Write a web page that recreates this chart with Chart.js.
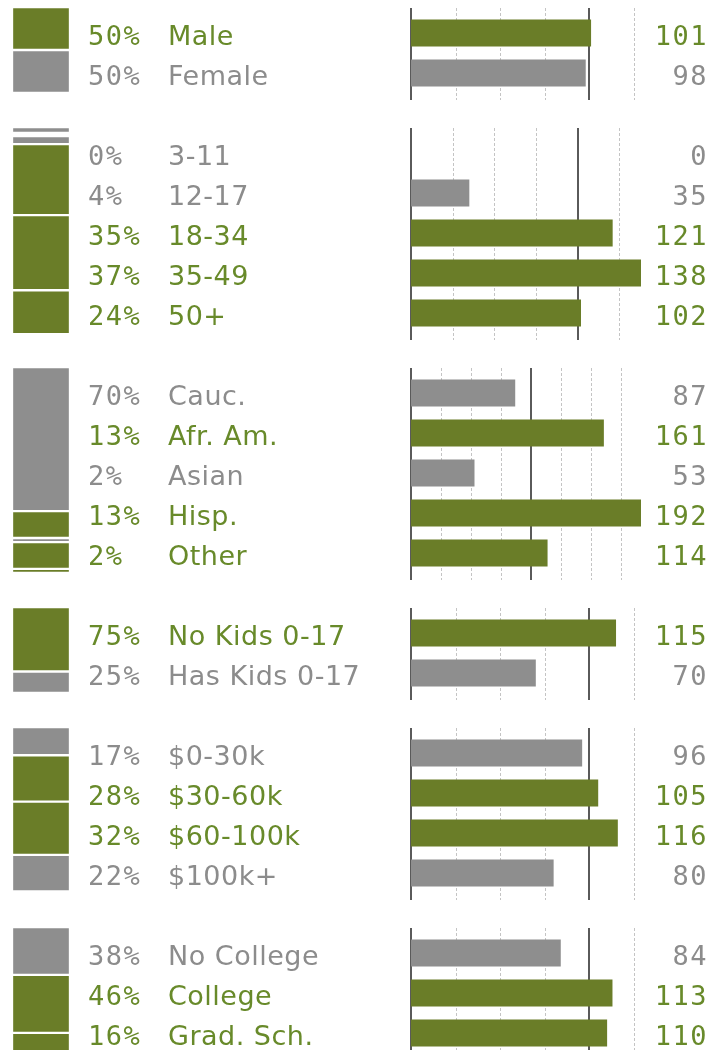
<!DOCTYPE html>
<html>
<head>
<meta charset="utf-8">
<title>Audience profile</title>
<script src="https://cdn.jsdelivr.net/npm/chart.js@4.4.1/dist/chart.umd.min.js"></script>
<style>
  html, body { margin: 0; padding: 0; background: #ffffff; width: 711px; height: 1050px; overflow: hidden; }
  #root { position: relative; width: 711px; height: 1050px; }
  .panel { position: absolute; left: 0; width: 711px; }
  .panel canvas { position: absolute; display: block; }
</style>
</head>
<body>
<div id="root"></div>
<script>
// ---- data: share of audience (%) and index vs. population (100 = average) ----
const genderLabels = ['Male', 'Female'];
const genderPct    = [50, 50];
const genderIndex  = [101, 98];

const ageLabels = ['3-11', '12-17', '18-34', '35-49', '50+'];
const agePct    = [0, 4, 35, 37, 24];
const ageIndex  = [0, 35, 121, 138, 102];

const ethLabels = ['Cauc.', 'Afr. Am.', 'Asian', 'Hisp.', 'Other'];
const ethPct    = [70, 13, 2, 13, 2];
const ethIndex  = [87, 161, 53, 192, 114];

const kidsLabels = ['No Kids 0-17', 'Has Kids 0-17'];
const kidsPct    = [75, 25];
const kidsIndex  = [115, 70];

const incomeLabels = ['$0-30k', '$30-60k', '$60-100k', '$100k+'];
const incomePct    = [17, 28, 32, 22];
const incomeIndex  = [96, 105, 116, 80];

const eduLabels = ['No College', 'College', 'Grad. Sch.'];
const eduPct    = [38, 46, 16];
const eduIndex  = [84, 113, 110];

// ---- styling ----
const GREEN = '#6A7D28';
const GRAY = '#8E8E8E';
const GREEN_TEXT = '#688A2A';
const GRAY_TEXT = '#8C8C8C';
const ROW_H = 40;
const PANEL_PAD = 6;
const PANEL_GAP = 28;
const FIRST_TOP = 8;
const TICK_STEP = 25;
const BASELINE = 100;
const DOMAIN_FLOOR = 129;

const above = v => v > BASELINE;
const barColor = v => above(v) ? GREEN : GRAY;
const textColor = v => above(v) ? GREEN_TEXT : GRAY_TEXT;

const panels = [
  { labels: genderLabels, pct: genderPct, index: genderIndex },
  { labels: ageLabels,    pct: agePct,    index: ageIndex },
  { labels: ethLabels,    pct: ethPct,    index: ethIndex },
  { labels: kidsLabels,   pct: kidsPct,   index: kidsIndex },
  { labels: incomeLabels, pct: incomePct, index: incomeIndex },
  { labels: eduLabels,    pct: eduPct,    index: eduIndex }
];

// dotted guides every 25 points, solid rules at 0 and 100
const guidePlugin = {
  id: 'guides',
  beforeDatasetsDraw(chart) {
    const { ctx, scales: { x } } = chart;
    ctx.save();
    for (let v = 0; v <= x.max + 1e-6; v += TICK_STEP) {
      const px = Math.round(x.getPixelForValue(v));
      ctx.beginPath();
      if (v === 0 || v === BASELINE) {
        ctx.strokeStyle = '#5A5A5A';
        ctx.lineWidth = 2;
        ctx.setLineDash([]);
        ctx.moveTo(px, 0);
        ctx.lineTo(px, chart.height);
      } else {
        ctx.strokeStyle = '#C4C4C4';
        ctx.lineWidth = 1;
        ctx.setLineDash([3, 2]);
        ctx.moveTo(px + 0.5, 0);
        ctx.lineTo(px + 0.5, chart.height);
      }
      ctx.stroke();
    }
    ctx.restore();
  }
};

// share %, category name and index value for each row
const rowTextPlugin = {
  id: 'rowText',
  afterDatasetsDraw(chart, args, opts) {
    const { ctx, scales: { y } } = chart;
    const { labels, pct, index } = opts;
    ctx.save();
    ctx.textBaseline = 'alphabetic';
    labels.forEach((lab, i) => {
      const cy = y.getPixelForValue(i) + 12;
      ctx.fillStyle = textColor(index[i]);
      ctx.font = '27px "DejaVu Sans Mono"';
      ctx.letterSpacing = '1.5px';
      ctx.textAlign = 'left';
      ctx.fillText(pct[i] + '%', 88, cy);
      ctx.textAlign = 'right';
      ctx.fillText(String(index[i]), 708, cy);
      ctx.font = '27px "DejaVu Sans"';
      ctx.letterSpacing = '0.5px';
      ctx.textAlign = 'left';
      ctx.fillText(lab, 168, cy);
    });
    ctx.letterSpacing = '0px';
    ctx.restore();
  }
};

const root = document.getElementById('root');
let panelTop = FIRST_TOP;

panels.forEach(p => {
  const n = p.labels.length;
  const h = n * ROW_H + PANEL_PAD * 2;

  const panel = document.createElement('div');
  panel.className = 'panel';
  panel.style.top = panelTop + 'px';
  panel.style.height = h + 'px';
  root.appendChild(panel);

  // index bars
  const barCanvas = document.createElement('canvas');
  barCanvas.width = 711;
  barCanvas.height = h;
  barCanvas.style.left = '0px';
  barCanvas.style.top = '0px';
  panel.appendChild(barCanvas);

  new Chart(barCanvas, {
    type: 'bar',
    data: {
      labels: p.labels,
      datasets: [{
        data: p.index,
        backgroundColor: p.index.map(barColor),
        borderWidth: 0,
        barPercentage: 0.68,
        categoryPercentage: 1
      }]
    },
    options: {
      indexAxis: 'y',
      responsive: false,
      animation: false,
      devicePixelRatio: 1,
      layout: { padding: { left: 411, right: 70, top: PANEL_PAD - 1, bottom: PANEL_PAD + 1 } },
      scales: {
        x: { display: false, min: 0, max: Math.max(DOMAIN_FLOOR, ...p.index) },
        y: { display: false }
      },
      plugins: {
        legend: { display: false },
        tooltip: { enabled: false },
        rowText: { labels: p.labels, pct: p.pct, index: p.index }
      }
    },
    plugins: [guidePlugin, rowTextPlugin]
  });

  // composition stack
  const stackH = n * ROW_H + 3;
  const stackCanvas = document.createElement('canvas');
  stackCanvas.width = 58;
  stackCanvas.height = stackH + 3;
  stackCanvas.style.left = '12px';
  stackCanvas.style.top = '-1.5px';
  panel.appendChild(stackCanvas);

  new Chart(stackCanvas, {
    type: 'bar',
    data: {
      labels: [''],
      datasets: p.pct.map((v, i) => ({
        data: [v],
        backgroundColor: barColor(p.index[i]),
        borderColor: '#FFFFFF',
        borderWidth: 1.5,
        borderSkipped: false,
        minBarLength: v === 0 ? 6 : 0,
        barPercentage: 1,
        categoryPercentage: 1
      }))
    },
    options: {
      responsive: false,
      animation: false,
      devicePixelRatio: 1,
      layout: { padding: 0 },
      scales: {
        x: { display: false, stacked: true },
        y: { display: false, stacked: true, reverse: true, min: p.pct.includes(0) ? -1.5 : 0, max: 100 }
      },
      plugins: { legend: { display: false }, tooltip: { enabled: false } }
    }
  });

  panelTop += h + PANEL_GAP;
});
</script>
</body>
</html>
